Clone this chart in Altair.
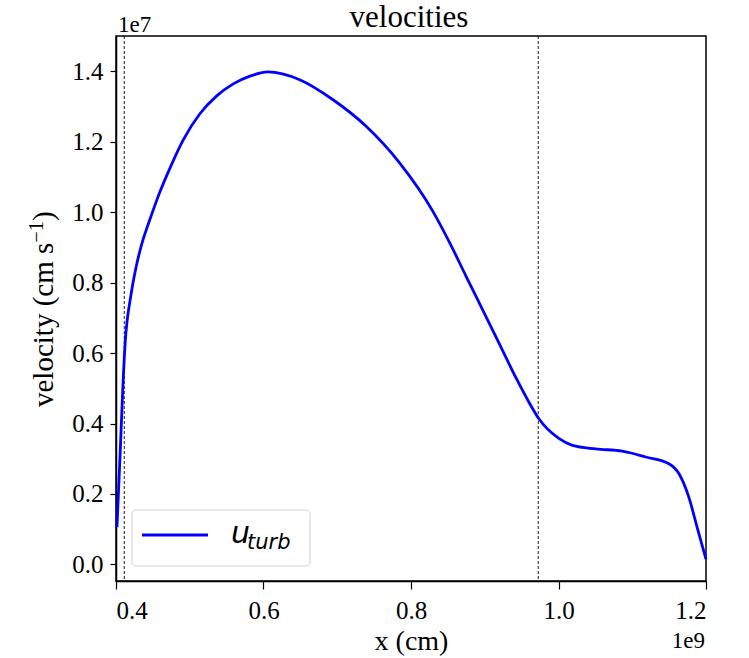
import altair as alt
import pandas as pd

# x in units of 1e9 cm, velocity in units of 1e7 cm/s
x_vals = [0.4013, 0.4058, 0.4095, 0.4113, 0.4126, 0.4150, 0.4193, 0.4240, 0.4284, 0.4350,
          0.4419, 0.4464, 0.460, 0.469,
          0.4914, 0.514, 0.5366, 0.559, 0.5816, 0.606, 0.649, 0.6943, 0.7395,
          0.7845, 0.8295, 0.852, 0.8747, 0.9018, 0.9198, 0.9423, 0.9603, 0.9729, 1.001,
          1.0189, 1.0505, 1.0865, 1.1182, 1.1497, 1.1632, 1.1767, 1.1879, 1.2]
u_turb = [0.106, 0.3235, 0.513, 0.590, 0.635, 0.690, 0.752, 0.810, 0.855, 0.910,
          0.955, 0.982, 1.060, 1.105,
          1.206, 1.280, 1.330, 1.364, 1.386, 1.398, 1.376, 1.319, 1.243,
          1.140, 1.003, 0.915, 0.818, 0.703, 0.626, 0.530, 0.459, 0.415, 0.357,
          0.338, 0.328, 0.3215, 0.305, 0.286, 0.258, 0.191, 0.106, 0.015]
vlines = [0.4112, 0.9725]
x_ticks = [0.4, 0.6, 0.8, 1.0, 1.2]
y_ticks = [0.0, 0.2, 0.4, 0.6, 0.8, 1.0, 1.2, 1.4]

W, H = 590, 545
SERIF = "Liberation Serif"

df = pd.DataFrame({"x": x_vals, "u": u_turb})
dv = pd.DataFrame({"x": vlines})

xs = alt.Scale(domain=[0.4, 1.2], nice=False, zero=False)
ys = alt.Scale(domain=[-0.047, 1.5], nice=False, zero=False)

xaxis = alt.Axis(values=x_ticks, format=".1f", title="x (cm)", grid=False,
                 tickSize=8, labelPadding=9, labelFontSize=25, labelFont=SERIF,
                 titleFont=SERIF, titleFontSize=28, titleFontWeight="normal",
                 titleX=W / 2, titleY=60, titleBaseline="middle", titleAlign="center",
                 domainColor="black", tickColor="black", labelColor="black",
                 titleColor="black", domainWidth=1.5, tickWidth=1.2)
yaxis = alt.Axis(values=y_ticks, format=".1f", title="", grid=False,
                 tickSize=6, labelPadding=7, labelFontSize=25, labelFont=SERIF,
                 domainColor="black", tickColor="black", labelColor="black",
                 domainWidth=1.5, tickWidth=1.2)

line = alt.Chart(df).mark_line(color="#0000ff", strokeWidth=2.8, interpolate="monotone").encode(
    x=alt.X("x:Q", scale=xs, axis=xaxis),
    y=alt.Y("u:Q", scale=ys, axis=yaxis),
)

rules = alt.Chart(dv).mark_rule(color="black", strokeWidth=0.9, strokeDash=[3, 2]).encode(
    x=alt.X("x:Q", scale=xs)
)

one = pd.DataFrame({"a": [0]})
# legend box
legend_box = alt.Chart(one).mark_rect(
    fill="white", stroke="#cccccc", strokeWidth=1, cornerRadius=4, opacity=0.9
).encode(x=alt.value(16), x2=alt.value(194), y=alt.value(474), y2=alt.value(530))
legend_line = alt.Chart(one).mark_rule(
    color="#0000ff", strokeWidth=2.8
).encode(x=alt.value(26), x2=alt.value(92), y=alt.value(499))
legend_u = alt.Chart(pd.DataFrame({"t": ["u"]})).mark_text(
    font="DejaVu Sans", fontStyle="italic", fontSize=30, align="left", baseline="alphabetic",
    color="black"
).encode(x=alt.value(115), y=alt.value(507), text="t:N")
legend_sub = alt.Chart(pd.DataFrame({"t": ["turb"]})).mark_text(
    font="DejaVu Sans", fontStyle="italic", fontSize=21, align="left", baseline="alphabetic",
    color="black"
).encode(x=alt.value(131), y=alt.value(513), text="t:N")

exp_y = alt.Chart(pd.DataFrame({"t": ["1e7"]})).mark_text(
    font=SERIF, fontSize=23, align="left", baseline="alphabetic", color="black"
).encode(x=alt.value(2), y=alt.value(-4), text="t:N")
exp_x = alt.Chart(pd.DataFrame({"t": ["1e9"]})).mark_text(
    font=SERIF, fontSize=23, align="right", baseline="alphabetic", color="black"
).encode(x=alt.value(W - 1), y=alt.value(612), text="t:N")
title_txt = alt.Chart(pd.DataFrame({"t": ["velocities"]})).mark_text(
    font=SERIF, fontSize=31, align="center", baseline="alphabetic", color="black"
).encode(x=alt.value(W / 2 - 2), y=alt.value(-9), text="t:N")

# y-axis title, built in pieces so the superscript has matplotlib-like size
YF = 29
y_bottom = 371
w1 = 5.666 * YF
w2 = 1.064 * YF * 0.7
ytitle_main = alt.Chart(pd.DataFrame({"t": ["velocity (cm s"]})).mark_text(
    font=SERIF, fontSize=YF, angle=270, align="left", baseline="alphabetic", color="black"
).encode(x=alt.value(-63), y=alt.value(y_bottom), text="t:N")
ytitle_sup = alt.Chart(pd.DataFrame({"t": ["\u22121"]})).mark_text(
    font=SERIF, fontSize=YF * 0.7, angle=270, align="left", baseline="alphabetic", color="black"
).encode(x=alt.value(-73), y=alt.value(y_bottom - w1), text="t:N")
ytitle_end = alt.Chart(pd.DataFrame({"t": [")"]})).mark_text(
    font=SERIF, fontSize=YF, angle=270, align="left", baseline="alphabetic", color="black"
).encode(x=alt.value(-63), y=alt.value(y_bottom - w1 - w2), text="t:N")

chart = alt.layer(rules, line, legend_box, legend_line, legend_u, legend_sub,
                  exp_y, exp_x, title_txt, ytitle_main, ytitle_sup, ytitle_end).properties(
    width=W, height=H,
    padding={"left": 116, "top": 36, "right": 43, "bottom": 77},
    autosize=alt.AutoSizeParams(type="none"),
).configure(background="white").configure_view(stroke="black", strokeWidth=1.5)

chart.save("out.html", embed_options={"renderer": "svg", "actions": False})
